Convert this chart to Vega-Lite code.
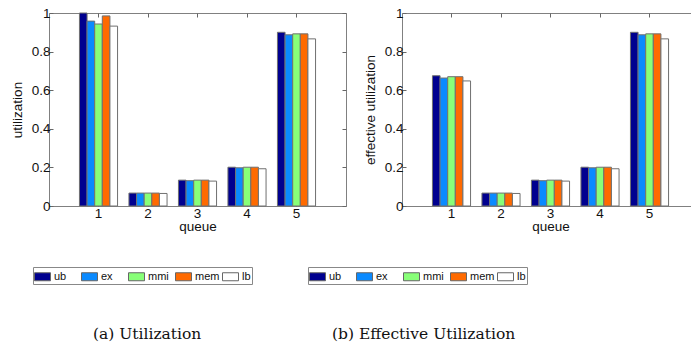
{
  "$schema": "https://vega.github.io/schema/vega-lite/v6.json",
  "background": "white",
  "padding": {"left": 9, "top": 5, "right": 0, "bottom": 0},
  "datasets": {
    "util": [
      {"queue": "1", "method": "ub", "value": 1.0},
      {"queue": "1", "method": "ex", "value": 0.958},
      {"queue": "1", "method": "mmi", "value": 0.943},
      {"queue": "1", "method": "mem", "value": 0.985},
      {"queue": "1", "method": "lb", "value": 0.932},
      {"queue": "2", "method": "ub", "value": 0.067},
      {"queue": "2", "method": "ex", "value": 0.067},
      {"queue": "2", "method": "mmi", "value": 0.067},
      {"queue": "2", "method": "mem", "value": 0.067},
      {"queue": "2", "method": "lb", "value": 0.065},
      {"queue": "3", "method": "ub", "value": 0.134},
      {"queue": "3", "method": "ex", "value": 0.131},
      {"queue": "3", "method": "mmi", "value": 0.134},
      {"queue": "3", "method": "mem", "value": 0.134},
      {"queue": "3", "method": "lb", "value": 0.129},
      {"queue": "4", "method": "ub", "value": 0.201},
      {"queue": "4", "method": "ex", "value": 0.198},
      {"queue": "4", "method": "mmi", "value": 0.201},
      {"queue": "4", "method": "mem", "value": 0.201},
      {"queue": "4", "method": "lb", "value": 0.193},
      {"queue": "5", "method": "ub", "value": 0.9},
      {"queue": "5", "method": "ex", "value": 0.887},
      {"queue": "5", "method": "mmi", "value": 0.892},
      {"queue": "5", "method": "mem", "value": 0.892},
      {"queue": "5", "method": "lb", "value": 0.866}
    ],
    "eff": [
      {"queue": "1", "method": "ub", "value": 0.675},
      {"queue": "1", "method": "ex", "value": 0.663},
      {"queue": "1", "method": "mmi", "value": 0.67},
      {"queue": "1", "method": "mem", "value": 0.67},
      {"queue": "1", "method": "lb", "value": 0.648},
      {"queue": "2", "method": "ub", "value": 0.067},
      {"queue": "2", "method": "ex", "value": 0.067},
      {"queue": "2", "method": "mmi", "value": 0.067},
      {"queue": "2", "method": "mem", "value": 0.067},
      {"queue": "2", "method": "lb", "value": 0.065},
      {"queue": "3", "method": "ub", "value": 0.134},
      {"queue": "3", "method": "ex", "value": 0.131},
      {"queue": "3", "method": "mmi", "value": 0.134},
      {"queue": "3", "method": "mem", "value": 0.134},
      {"queue": "3", "method": "lb", "value": 0.129},
      {"queue": "4", "method": "ub", "value": 0.201},
      {"queue": "4", "method": "ex", "value": 0.198},
      {"queue": "4", "method": "mmi", "value": 0.201},
      {"queue": "4", "method": "mem", "value": 0.201},
      {"queue": "4", "method": "lb", "value": 0.193},
      {"queue": "5", "method": "ub", "value": 0.9},
      {"queue": "5", "method": "ex", "value": 0.887},
      {"queue": "5", "method": "mmi", "value": 0.892},
      {"queue": "5", "method": "mem", "value": 0.892},
      {"queue": "5", "method": "lb", "value": 0.866}
    ]
  },
  "bounds": "flush",
  "spacing": 56,
  "hconcat": [
    {
      "width": 297,
      "height": 193,
      "data": {"name": "util"},
      "title": {"text": "(a) Utilization", "orient": "bottom", "anchor": "start", "frame": "group", "dx": 44, "offset": 42},
      "layer": [
        {
          "mark": {"type": "bar", "stroke": "#707070", "strokeWidth": 1},
          "encoding": {
            "x": {"field": "queue", "type": "ordinal", "scale": {"paddingInner": 0.23, "paddingOuter": 0.615},
                  "axis": {"title": "queue", "orient": "bottom"}},
            "xOffset": {"field": "method", "type": "nominal", "sort": ["ub", "ex", "mmi", "mem", "lb"], "scale": {"paddingInner": 0, "paddingOuter": 0}},
            "y": {"field": "value", "type": "quantitative", "stack": null, "scale": {"domain": [0, 1], "nice": false},
                  "axis": {"title": "utilization", "orient": "left"}},
            "color": {"field": "method", "type": "nominal",
                      "scale": {"domain": ["ub", "ex", "mmi", "mem", "lb"], "range": ["#00008f", "#0a8aff", "#88ff78", "#ff6a00", "#ffffff"]},
                      "legend": {"orient": "none", "legendX": -16, "legendY": 254}}
          }
        },
        {
          "mark": {"type": "bar", "opacity": 0},
          "encoding": {
            "x": {"field": "queue", "type": "ordinal", "axis": {"orient": "top", "labels": false, "title": null}},
            "xOffset": {"field": "method", "type": "nominal", "sort": ["ub", "ex", "mmi", "mem", "lb"]},
            "y": {"field": "value", "type": "quantitative", "stack": null, "axis": {"orient": "right", "labels": false, "title": null}}
          }
        }
      ]
    },
    {
      "width": 297,
      "height": 193,
      "data": {"name": "eff"},
      "title": {"text": "(b) Effective Utilization", "orient": "bottom", "anchor": "start", "frame": "group", "dx": -70, "offset": 42},
      "layer": [
        {
          "mark": {"type": "bar", "stroke": "#707070", "strokeWidth": 1},
          "encoding": {
            "x": {"field": "queue", "type": "ordinal", "scale": {"paddingInner": 0.23, "paddingOuter": 0.615},
                  "axis": {"title": "queue", "orient": "bottom"}},
            "xOffset": {"field": "method", "type": "nominal", "sort": ["ub", "ex", "mmi", "mem", "lb"], "scale": {"paddingInner": 0, "paddingOuter": 0}},
            "y": {"field": "value", "type": "quantitative", "stack": null, "scale": {"domain": [0, 1], "nice": false},
                  "axis": {"title": "effective utilization", "orient": "left"}},
            "color": {"field": "method", "type": "nominal",
                      "scale": {"domain": ["ub", "ex", "mmi", "mem", "lb"], "range": ["#00008f", "#0a8aff", "#88ff78", "#ff6a00", "#ffffff"]},
                      "legend": {"orient": "none", "legendX": -94, "legendY": 254}}
          }
        },
        {
          "mark": {"type": "bar", "opacity": 0},
          "encoding": {
            "x": {"field": "queue", "type": "ordinal", "axis": {"orient": "top", "labels": false, "title": null}},
            "xOffset": {"field": "method", "type": "nominal", "sort": ["ub", "ex", "mmi", "mem", "lb"]},
            "y": {"field": "value", "type": "quantitative", "stack": null, "axis": {"orient": "right", "labels": false, "title": null}}
          }
        }
      ]
    }
  ],
  "resolve": {"legend": {"color": "independent"}},
  "config": {
    "view": {"stroke": "#808080", "strokeWidth": 1},
    "font": "Liberation Sans",
    "title": {"font": "DejaVu Serif", "fontSize": 15.5, "fontWeight": "normal", "color": "#111111"},
    "axis": {
      "grid": false,
      "domain": false,
      "tickSize": -4,
      "tickColor": "#666666",
      "labelFont": "Liberation Sans",
      "labelFontSize": 13.5,
      "labelColor": "#111111",
      "titleFont": "Liberation Sans",
      "titleFontSize": 13.5,
      "titleFontWeight": "normal",
      "titleColor": "#111111"
    },
    "axisX": {"labelAngle": 0, "labelPadding": 4, "titlePadding": 0},
    "axisY": {"values": [0, 0.2, 0.4, 0.6, 0.8, 1], "format": "~g", "labelPadding": 3, "titlePadding": 7},
    "legend": {
      "direction": "horizontal",
      "columns": 5,
      "gridAlign": "all",
      "columnPadding": 0,
      "title": null,
      "symbolType": "M-1,-0.5H1V0.5H-1Z",
      "symbolSize": 256,
      "symbolStrokeColor": "#666666",
      "symbolStrokeWidth": 1,
      "symbolOpacity": 1,
      "labelFont": "Liberation Sans",
      "labelFontSize": 11,
      "labelColor": "#111111",
      "labelOffset": 3,
      "padding": 1,
      "strokeColor": "#888888",
      "fillColor": "#ffffff"
    }
  }
}
